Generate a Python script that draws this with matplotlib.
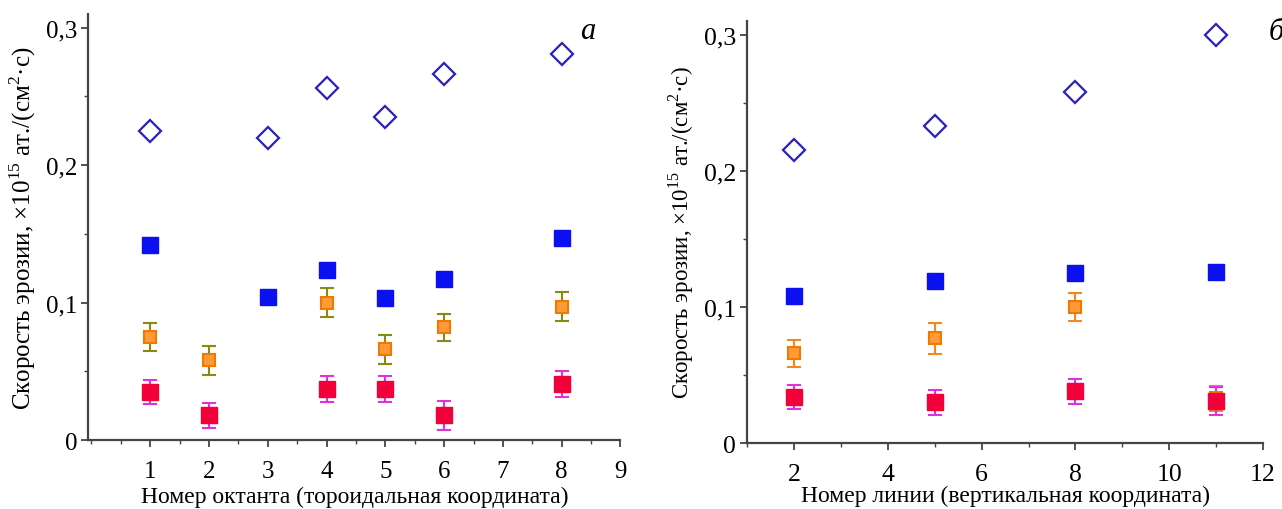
import matplotlib.pyplot as plt
from matplotlib.ticker import FuncFormatter, MultipleLocator

plt.rcParams['font.family'] = ['Liberation Serif', 'DejaVu Serif']
plt.rcParams['mathtext.fontset'] = 'custom'
plt.rcParams['mathtext.rm'] = 'Liberation Serif'

# panel a: octant number (toroidal coordinate)
oct_x = [1, 3, 4, 5, 6, 8]
oct_diam = [0.225, 0.220, 0.256, 0.235, 0.266, 0.281]
oct_blue = [0.142, 0.104, 0.124, 0.103, 0.117, 0.147]
oct_orange_x = [1, 2, 4, 5, 6, 8]
oct_orange = [0.075, 0.058, 0.100, 0.066, 0.082, 0.097]
oct_orange_err = [0.0105, 0.0105, 0.0105, 0.0105, 0.010, 0.0105]
oct_red_x = [1, 2, 4, 5, 6, 8]
oct_red = [0.035, 0.018, 0.037, 0.037, 0.018, 0.041]
oct_red_err = [0.0085, 0.009, 0.0095, 0.0095, 0.0105, 0.0095]

# panel b: line number (vertical coordinate)
line_x = [2, 5, 8, 11]
line_diam = [0.215, 0.233, 0.258, 0.300]
line_blue = [0.108, 0.119, 0.125, 0.126]
line_orange = [0.066, 0.077, 0.100, 0.033]
line_orange_err = [0.010, 0.0115, 0.010, 0.009]
line_red = [0.034, 0.030, 0.038, 0.031]
line_red_err = [0.009, 0.009, 0.0095, 0.0105]

ylabel = 'Скорость эрозии, ×10$^{15}$ ат./(см$^{2}$·с)'


def comma(v, pos):
    if abs(v) < 1e-9:
        return '0'
    return ('%.1f' % v).replace('.', ',')


def style(ax, xlim, xmajor, fs, yfs):
    ax.set_xlim(*xlim)
    ax.set_ylim(0, 0.31)
    for s in ['top', 'right']:
        ax.spines[s].set_visible(False)
    for s in ['left', 'bottom']:
        ax.spines[s].set_color('#444444')
        ax.spines[s].set_linewidth(1.6)
    ax.yaxis.set_major_locator(MultipleLocator(0.1))
    ax.yaxis.set_minor_locator(MultipleLocator(0.05))
    ax.xaxis.set_major_locator(MultipleLocator(xmajor))
    ax.xaxis.set_minor_locator(MultipleLocator(xmajor / 2))
    ax.yaxis.set_major_formatter(FuncFormatter(comma))
    ax.tick_params(which='major', length=5, width=1.3, color='#444444', labelsize=fs)
    ax.tick_params(axis='x', which='major', pad=9)
    ax.tick_params(axis='y', which='major', pad=3)
    ax.tick_params(which='minor', length=3, width=1, color='#444444')
    ax.set_ylabel(ylabel, fontsize=yfs, labelpad=6)


def points(ax, xd, diam, xb, blue, xo, orange, oerr, ocol, xr, red, rerr):
    ax.plot(xd, diam, linestyle='none', marker='D', markersize=11,
            markerfacecolor='white', markeredgecolor='#2a1fc0', markeredgewidth=1.6)
    ax.plot(xb, blue, linestyle='none', marker='s', markersize=11,
            color='#0a10f0')
    ax.errorbar(xo, orange, yerr=oerr, fmt='s', markersize=9,
                markerfacecolor='#ff9a38', markeredgecolor='#f07a00', markeredgewidth=1.5,
                ecolor=ocol, elinewidth=1.5, capsize=5, capthick=1.5)
    ax.errorbar(xr, red, yerr=rerr, fmt='s', markersize=11,
                color='#f2003a', ecolor='#e030e0', elinewidth=1.5, capsize=5, capthick=1.5)


fig = plt.figure(figsize=(12.82, 5.10), dpi=100)
ax1 = fig.add_axes([0.069, 0.135, 0.415, 0.836])
ax2 = fig.add_axes([0.583, 0.129, 0.402, 0.828])

points(ax1, oct_x, oct_diam, oct_x, oct_blue, oct_orange_x, oct_orange, oct_orange_err,
       '#8a8a10', oct_red_x, oct_red, oct_red_err)
style(ax1, (-0.05, 9), 1, 18, 18)
ax1.set_xticks([1, 2, 3, 4, 5, 6, 7, 8, 9])
ax1.set_xlabel('Номер октанта (тороидальная координата)', fontsize=17, labelpad=3)
ax1.text(8.45, 0.298, 'а', fontsize=22, style='italic', ha='center', va='center')

points(ax2, line_x, line_diam, line_x, line_blue, line_x, line_orange, line_orange_err,
       '#f08a20', line_x, line_red, line_red_err)
style(ax2, (1, 12), 2, 18.5, 16.5)
ax2.set_xlabel('Номер линии (вертикальная координата)', fontsize=17, labelpad=0)
ax2.text(12.3, 0.302, 'б', fontsize=22, style='italic', ha='center', va='center',
         clip_on=False)

fig.savefig('out.png', dpi=100)
